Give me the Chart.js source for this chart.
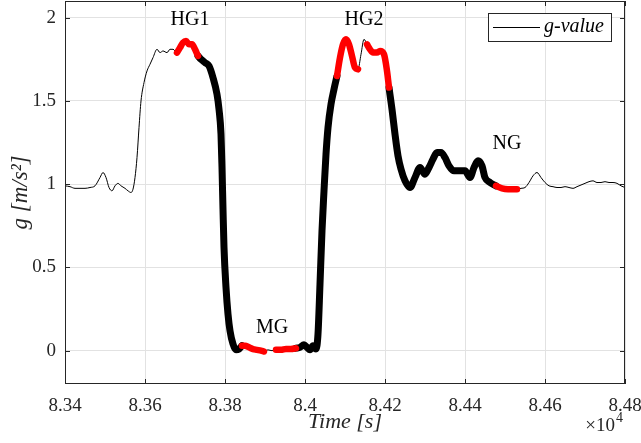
<!DOCTYPE html>
<html>
<head>
<meta charset="utf-8">
<script src="https://cdn.jsdelivr.net/npm/chart.js@4.4.0/dist/chart.umd.min.js"></script>
<style>
  html, body { margin: 0; padding: 0; background: #fff; }
  #wrap { width: 641px; height: 443px; }
</style>
</head>
<body>
<div id="wrap"><canvas id="gChart"></canvas></div>
<script>
// ---------- DATA ----------
// time [s] and measured g-value [m/s^2]
const time = [
    83400, 83412.5, 83425, 83437.5, 83450, 83462.5, 83475, 83487.5, 83495, 83502.5,
    83510, 83517.5, 83525, 83532.5, 83540, 83550, 83557.5, 83565, 83570, 83575,
    83580, 83585, 83590, 83597.5, 83605, 83612.5, 83620, 83630, 83637.5, 83645,
    83655, 83662.5, 83670, 83680, 83687.5, 83695, 83702.5, 83710, 83717.5, 83725,
    83732.5, 83740, 83750, 83760, 83770, 83780, 83785, 83790, 83792.5, 83795,
    83797.5, 83802.5, 83807.5, 83812.5, 83820, 83827.5, 83835, 83842.5, 83850, 83860,
    83870, 83880, 83890, 83897.5, 83907.5, 83917.5, 83927.5, 83940, 83952.5, 83965,
    83977.5, 83987.5, 83997.5, 84005, 84012.5, 84020, 84027.5, 84032.5, 84037.5, 84042.5,
    84047.5, 84052.5, 84057.5, 84065, 84072.5, 84080, 84087.5, 84095, 84102.5, 84110,
    84117.5, 84125, 84132.5, 84140, 84147.5, 84155, 84162.5, 84170, 84180, 84187.5,
    84197.5, 84205, 84210, 84217.5, 84225, 84232.5, 84240, 84250, 84262.5, 84275,
    84287.5, 84300, 84310, 84320, 84330, 84340, 84350, 84360, 84372.5, 84387.5,
    84400, 84412.5, 84422.5, 84432.5, 84442.5, 84450, 84462.5, 84477.5, 84492.5, 84507.5,
    84520, 84530, 84540, 84550, 84560, 84570, 84580, 84590, 84600, 84610,
    84620, 84630, 84640, 84650, 84660, 84670, 84680, 84690, 84700, 84710,
    84720, 84730, 84740, 84750, 84760, 84770, 84780, 84790, 84800
];
const gValue = [
    0.99, 0.985, 0.975, 0.975, 0.975, 0.98, 0.99, 1.04, 1.07, 1.04,
    0.98, 0.96, 0.99, 1.005, 0.99, 0.975, 0.96, 0.95, 0.97, 1.04,
    1.16, 1.34, 1.50, 1.61, 1.68, 1.72, 1.76, 1.81, 1.79, 1.80,
    1.79, 1.81, 1.81, 1.79, 1.82, 1.85, 1.86, 1.84, 1.84, 1.81,
    1.77, 1.75, 1.73, 1.71, 1.64, 1.54, 1.45, 1.30, 1.10, 0.85,
    0.62, 0.38, 0.22, 0.12, 0.04, 0.005, 0.01, 0.03, 0.03, 0.02,
    0.01, 0.005, 0.0, -0.005, 0.005, 0.0, 0.005, 0.005, 0.01, 0.01,
    0.015, 0.02, 0.035, 0.02, 0.005, 0.03, 0.01, 0.10, 0.40, 0.72,
    0.96, 1.18, 1.34, 1.48, 1.57, 1.65, 1.76, 1.84, 1.87, 1.84,
    1.77, 1.70, 1.69, 1.78, 1.87, 1.84, 1.81, 1.79, 1.79, 1.80,
    1.78, 1.68, 1.58, 1.45, 1.30, 1.17, 1.09, 1.02, 0.98, 1.04,
    1.10, 1.06, 1.10, 1.15, 1.19, 1.19, 1.16, 1.11, 1.08, 1.08,
    1.08, 1.04, 1.10, 1.14, 1.11, 1.04, 1.01, 0.99, 0.975, 0.97,
    0.97, 0.97, 0.975, 0.98, 1.01, 1.05, 1.07, 1.04, 1.01, 0.99,
    0.985, 0.98, 0.98, 0.985, 0.98, 0.975, 0.985, 0.995, 1.005, 1.015,
    1.02, 1.01, 1.01, 1.015, 1.01, 1.01, 1.005, 0.99, 0.98
];

// transition phases (thick black) and gravity levels (thick red), [start, end] in s
const transitionSegments = [[83732.5, 83842.5], [83977.5, 84080], [84210, 84477.5]];
const levelSegments = [
    [83680, 83732.5], [83842.5, 83897.5], [83927.5, 83977.5],
    [84080, 84132.5], [84155, 84210], [84477.5, 84530]
];

// phase names and where they are written
const phaseNames = ["HG1", "MG", "HG2", "NG"];
const phaseTimes = [83712.5, 83917.5, 84147.5, 84505];
const phaseG = [1.99, 0.14, 1.99, 1.24];

// axis ticks
const xTicks = [83400, 83600, 83800, 84000, 84200, 84400, 84600, 84800];
const yTicks = [0, 0.5, 1, 1.5, 2];

const axisColor = "#262626";
const serif = "'Liberation Serif', 'Times New Roman', serif";

Chart.defaults.font.family = serif;
Chart.defaults.color = axisColor;

// keep only points inside the given segments
function pick(segs) {
    return time.map((t, i) => {
        const inside = segs.some(s => t >= s[0] && t <= s[1]);
        return { x: t, y: inside ? gValue[i] : null };
    });
}

// ---------- PLUGINS ----------
// box round the plot with inward ticks
const frame = {
    id: "frame",
    afterDraw(chart) {
        const ctx = chart.ctx;
        const a = chart.chartArea;
        const xs = chart.scales.x, ys = chart.scales.y;
        ctx.save();
        ctx.strokeStyle = axisColor;
        ctx.lineWidth = 1;
        ctx.strokeRect(a.left + 0.5, a.top + 0.5, a.right - a.left - 1, a.bottom - a.top - 1);
        ctx.beginPath();
        xTicks.forEach(v => {
            const px = Math.round(xs.getPixelForValue(v)) + 0.5;
            ctx.moveTo(px, a.bottom); ctx.lineTo(px, a.bottom - 5);
            ctx.moveTo(px, a.top); ctx.lineTo(px, a.top + 5);
        });
        yTicks.forEach(v => {
            const py = Math.round(ys.getPixelForValue(v)) + 0.5;
            ctx.moveTo(a.left, py); ctx.lineTo(a.left + 5, py);
            ctx.moveTo(a.right, py); ctx.lineTo(a.right - 5, py);
        });
        ctx.stroke();

        // x10^4 exponent
        ctx.fillStyle = axisColor;
        ctx.textBaseline = "alphabetic";
        ctx.textAlign = "right";
        ctx.font = "19px " + serif;
        ctx.fillText("\u00d710", a.right - 10, 431);
        ctx.textAlign = "left";
        ctx.font = "14px " + serif;
        ctx.fillText("4", a.right - 9, 422);
        ctx.restore();
    }
};

// phase labels
const phaseText = {
    id: "phaseText",
    afterDatasetsDraw(chart) {
        const ctx = chart.ctx;
        const xs = chart.scales.x, ys = chart.scales.y;
        ctx.save();
        ctx.fillStyle = "#000";
        ctx.font = "20px " + serif;
        ctx.textAlign = "center";
        ctx.textBaseline = "middle";
        phaseNames.forEach((name, i) => {
            ctx.fillText(name, xs.getPixelForValue(phaseTimes[i]), ys.getPixelForValue(phaseG[i]));
        });
        ctx.restore();
    }
};

// legend box in the top right corner
const legendBox = {
    id: "legendBox",
    afterDraw(chart) {
        const ctx = chart.ctx;
        const a = chart.chartArea;
        const x1 = a.right - 137, y1 = a.top + 12, w = 123, h = 28;
        ctx.save();
        ctx.fillStyle = "#fff";
        ctx.fillRect(x1, y1, w, h);
        ctx.strokeStyle = axisColor;
        ctx.lineWidth = 1;
        ctx.strokeRect(x1 + 0.5, y1 + 0.5, w, h);
        ctx.strokeStyle = "#000";
        ctx.beginPath();
        ctx.moveTo(x1 + 5, y1 + 14.5);
        ctx.lineTo(x1 + 52, y1 + 14.5);
        ctx.stroke();
        ctx.fillStyle = "#000";
        ctx.font = "italic 20px " + serif;
        ctx.textBaseline = "middle";
        ctx.fillText(chart.data.datasets[0].label, x1 + 56, y1 + 14);
        ctx.restore();
    }
};

// ---------- CHART ----------
const ctx = document.getElementById("gChart").getContext("2d");

new Chart(ctx, {
    type: "line",
    data: {
        datasets: [
            {
                label: "g-value",
                data: time.map((t, i) => ({ x: t, y: gValue[i] })),
                borderColor: "#000",
                borderWidth: 1,
                order: 3
            },
            {
                label: "transition",
                data: pick(transitionSegments),
                borderColor: "#000",
                borderWidth: 7,
                order: 2
            },
            {
                label: "level",
                data: pick(levelSegments),
                borderColor: "#ff0000",
                borderWidth: 6.5,
                order: 1
            }
        ]
    },
    options: {
        responsive: true,
        maintainAspectRatio: false,
        animation: false,
        spanGaps: false,
        layout: { padding: { left: 0, right: 16, top: 1, bottom: 0 } },
        elements: {
            point: { radius: 0 },
            line: {
                cubicInterpolationMode: "monotone",
                borderCapStyle: "round",
                borderJoinStyle: "round"
            }
        },
        plugins: {
            legend: { display: false },
            tooltip: { enabled: false }
        },
        scales: {
            x: {
                type: "linear",
                min: 83400,
                max: 84800,
                afterBuildTicks: s => { s.ticks = xTicks.map(v => ({ value: v })); },
                afterFit: s => { s.height = 59; s.paddingLeft = 0; s.paddingRight = 0; },
                grid: { color: "#e2e2e2", drawTicks: false },
                border: { display: false },
                ticks: {
                    padding: 11,
                    color: axisColor,
                    font: { family: serif, size: 19 },
                    maxRotation: 0,
                    callback: v => String(Number((v / 1e4).toFixed(2)))
                },
                title: {
                    display: true,
                    text: "Time [s]",
                    color: axisColor,
                    font: { family: serif, size: 22, style: "italic" },
                    padding: { top: 0, bottom: 8 }
                }
            },
            y: {
                min: -0.2,
                max: 2.1,
                afterBuildTicks: s => { s.ticks = yTicks.map(v => ({ value: v })); },
                afterFit: s => { s.width = 65; s.paddingTop = 0; s.paddingBottom = 0; },
                grid: { color: "#e2e2e2", drawTicks: false },
                border: { display: false },
                ticks: {
                    padding: 9,
                    color: axisColor,
                    font: { family: serif, size: 19 },
                    callback: v => String(v)
                },
                title: {
                    display: true,
                    text: "g [m/s\u00b2]",
                    color: axisColor,
                    font: { family: serif, size: 23, style: "italic" },
                    padding: { top: 7, bottom: 0 }
                }
            }
        }
    },
    plugins: [frame, phaseText, legendBox]
});
</script>
</body>
</html>
